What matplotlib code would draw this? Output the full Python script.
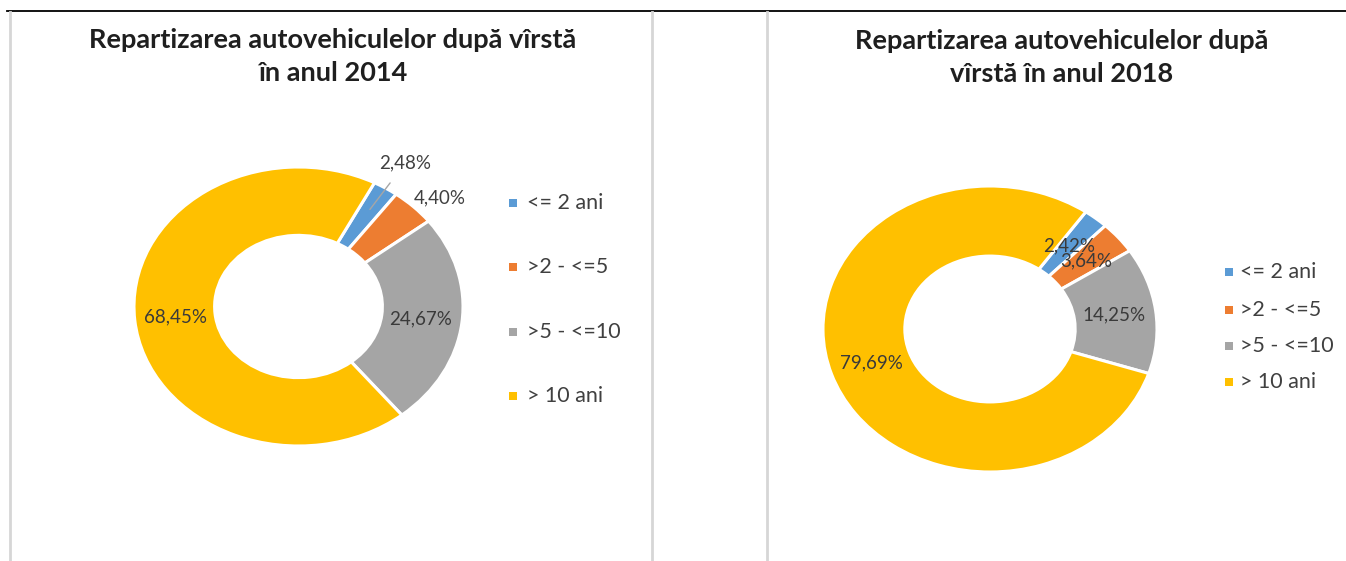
import matplotlib
matplotlib.use("Agg")
import matplotlib.pyplot as plt
import numpy as np
from matplotlib.lines import Line2D
from matplotlib.patches import Rectangle

categories = ["<= 2 ani", ">2 - <=5", ">5 - <=10", "> 10 ani"]
values_2014 = [2.48, 4.40, 24.67, 68.45]
values_2018 = [2.42, 3.64, 14.25, 79.69]
title_2014 = ["Repartizarea autovehiculelor după vîrstă", "în anul 2014"]
title_2018 = ["Repartizarea autovehiculelor după", "vîrstă în anul 2018"]
colors = ["#5B9BD5", "#ED7D31", "#A5A5A5", "#FFC000"]

W, H = 1346, 561
plt.rcParams['font.family'] = ['Lato', 'DejaVu Sans']
fig = plt.figure(figsize=(W / 100, H / 100), dpi=100)
fig.patch.set_facecolor("white")


def fx(px):
    return px / W


def fy(py):
    return 1 - py / H


# frame lines
fig.add_artist(Line2D([fx(7), 1], [fy(11), fy(11)], color="black", lw=1.3))
for xv in [10, 652, 767]:
    fig.add_artist(Line2D([fx(xv), fx(xv)], [fy(12), 0], color="#d6d6d6", lw=2))


def fmt(v):
    return f"{v:.2f}%".replace(".", ",")


LFS = 13.5


def donut(box, values, start, inside_flags, fs):
    x0, y0, x1, y1 = box
    ax = fig.add_axes([fx(x0), fy(y1), fx(x1 - x0), (y1 - y0) / H])
    wedges, _ = ax.pie(values, colors=colors, startangle=90 - start,
                       counterclock=False, radius=1,
                       wedgeprops=dict(width=0.49, edgecolor="white", linewidth=2.2))
    ax.set_aspect("auto")
    ax.set_xlim(-1, 1)
    ax.set_ylim(-1, 1)
    ax.axis("off")
    for w, v, inside in zip(wedges, values, inside_flags):
        if inside:
            ang = np.deg2rad((w.theta1 + w.theta2) / 2)
            ax.text(0.75 * np.cos(ang), 0.75 * np.sin(ang), fmt(v),
                    ha="center", va="center", fontsize=fs, color="#3a3a3a")
    return ax, wedges


# 2014
ax1, w1 = donut((134, 167, 463, 446), values_2014, 27.5, [False, False, True, True], LFS)
ang = np.deg2rad((w1[0].theta1 + w1[0].theta2) / 2)
ax1.annotate(fmt(values_2014[0]), xy=(0.82 * np.cos(ang), 0.82 * np.sin(ang)),
             xytext=(0.65, 1.03), ha="center", va="center", fontsize=LFS, color="#404040",
             arrowprops=dict(arrowstyle="-", color="#a6a6a6", lw=1,
                             shrinkA=8, shrinkB=0))
ax1.text(0.86, 0.78, fmt(values_2014[1]), ha="center", va="center",
         fontsize=LFS, color="#404040")

# 2018
ax2, w2 = donut((823, 186, 1157, 472), values_2018, 35, [True, True, True, True], LFS)


# legends (manual placement)
def legend(x_marker, x_text, ys, fs=15.5):
    for cat, col, y in zip(categories, colors, ys):
        s = 8
        fig.add_artist(Rectangle((fx(x_marker - s / 2), fy(y + s / 2)), s / W, s / H,
                                 transform=fig.transFigure, facecolor=col,
                                 edgecolor="none"))
        fig.text(fx(x_text), fy(y), cat, ha="left", va="center", fontsize=fs,
                 color="#404040")


legend(513, 527, [203, 267, 332, 396])
legend(1229, 1240, [272, 310, 346, 382])

# titles
for lines, xc, bases in [(title_2014, 333, [48, 81]), (title_2018, 1062, [49, 82])]:
    for ln, b in zip(lines, bases):
        fig.text(fx(xc), fy(b), ln, ha="center", va="baseline", fontsize=19.5,
                 fontweight="bold", color="#1f1f1f")

fig.savefig("out.png", dpi=100, facecolor="white")
